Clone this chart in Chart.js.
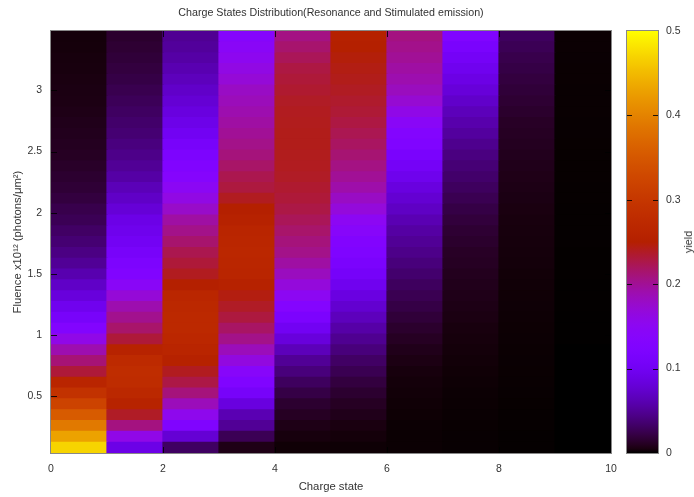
<!DOCTYPE html>
<html><head><meta charset="utf-8">
<script src="https://cdn.jsdelivr.net/npm/chart.js@4/dist/chart.umd.min.js"></script>
<style>
html,body{margin:0;padding:0;background:#fff;}
#wrap{position:relative;width:694px;height:497px;background:#fff;}
canvas{position:absolute;left:0;top:0;}
#cblabel{position:absolute;left:688px;top:242px;transform:translate(-50%,-50%) rotate(-90deg);font:10.8px "Liberation Sans",Arial,sans-serif;color:#333;white-space:nowrap;}
</style></head><body>
<div id="wrap">
<canvas id="main" width="694" height="497"></canvas>
<canvas id="cbar" width="694" height="497"></canvas>
<div id="cblabel">yield</div>
</div>
<script>
// ---- data ----
const chargeStates = [0,1,2,3,4,5,6,7,8,9];
// fluence (x10^12 photons/um^2), row centres, bottom to top
const fluence = [0.078,0.166,0.255,0.343,0.432,0.520,0.609,0.697,0.786,0.874,0.963,1.051,1.140,1.228,1.317,1.405,1.494,1.582,1.671,1.759,1.848,1.936,2.025,2.113,2.202,2.290,2.379,2.467,2.556,2.644,2.733,2.821,2.910,2.998,3.087,3.175,3.264,3.352,3.441];
// yield per charge state, one value per fluence row
const q0 = [0.470,0.430,0.390,0.355,0.320,0.290,0.262,0.232,0.212,0.190,0.160,0.130,0.110,0.096,0.083,0.071,0.060,0.050,0.043,0.037,0.032,0.027,0.024,0.020,0.017,0.015,0.013,0.011,0.010,0.009,0.008,0.007,0.006,0.0055,0.005,0.0045,0.004,0.0035,0.003];
const q1 = [0.090,0.160,0.208,0.238,0.258,0.270,0.278,0.280,0.275,0.258,0.232,0.216,0.203,0.190,0.170,0.145,0.128,0.120,0.110,0.102,0.095,0.090,0.080,0.071,0.064,0.056,0.050,0.045,0.041,0.037,0.034,0.031,0.028,0.025,0.022,0.020,0.018,0.016,0.014];
const q2 = [0.031,0.078,0.125,0.155,0.185,0.210,0.228,0.240,0.255,0.263,0.268,0.272,0.272,0.270,0.265,0.250,0.240,0.232,0.225,0.215,0.205,0.195,0.178,0.162,0.148,0.135,0.127,0.120,0.110,0.100,0.092,0.085,0.078,0.072,0.066,0.061,0.056,0.052,0.049];
const q3 = [0.007,0.027,0.050,0.062,0.085,0.108,0.125,0.140,0.165,0.185,0.205,0.218,0.230,0.238,0.245,0.255,0.262,0.266,0.268,0.266,0.262,0.256,0.250,0.240,0.230,0.225,0.217,0.210,0.205,0.200,0.195,0.190,0.185,0.180,0.170,0.162,0.152,0.145,0.137];
const q4 = [0.002,0.004,0.007,0.011,0.015,0.022,0.030,0.040,0.050,0.065,0.083,0.100,0.118,0.133,0.150,0.168,0.183,0.195,0.205,0.210,0.216,0.222,0.228,0.232,0.235,0.238,0.240,0.241,0.242,0.242,0.241,0.240,0.238,0.235,0.232,0.229,0.222,0.215,0.207];
const q5 = [0.0015,0.003,0.005,0.008,0.011,0.015,0.020,0.026,0.032,0.040,0.048,0.057,0.066,0.076,0.086,0.097,0.107,0.116,0.124,0.130,0.140,0.150,0.168,0.180,0.192,0.200,0.207,0.213,0.219,0.224,0.229,0.233,0.236,0.239,0.242,0.244,0.247,0.250,0.253];
const q6 = [0.001,0.001,0.0012,0.0015,0.002,0.0025,0.003,0.004,0.006,0.008,0.011,0.014,0.018,0.022,0.026,0.030,0.035,0.040,0.045,0.050,0.055,0.062,0.070,0.077,0.085,0.095,0.105,0.115,0.125,0.132,0.145,0.160,0.173,0.183,0.190,0.195,0.200,0.204,0.208];
const q7 = [0.0005,0.0005,0.0006,0.0008,0.001,0.0012,0.0015,0.002,0.0025,0.003,0.0038,0.0045,0.0055,0.0065,0.0075,0.0085,0.0095,0.011,0.012,0.014,0.016,0.019,0.022,0.026,0.030,0.034,0.038,0.042,0.047,0.053,0.059,0.065,0.073,0.081,0.089,0.097,0.105,0.115,0.125];
const q8 = [0.0002,0.0002,0.0003,0.0003,0.0004,0.0005,0.0006,0.0007,0.0008,0.001,0.0012,0.0014,0.0016,0.0018,0.002,0.0023,0.0026,0.003,0.0033,0.0037,0.004,0.0045,0.005,0.0058,0.0065,0.0072,0.008,0.009,0.010,0.011,0.012,0.014,0.016,0.018,0.020,0.022,0.024,0.027,0.030];
const q9 = [0,0,0,0,0,0,0,0,0,0,0.00002,0.00003,0.00004,0.00005,0.00006,0.00008,0.0001,0.00012,0.00014,0.00016,0.00018,0.0002,0.00023,0.00026,0.0003,0.00033,0.00036,0.0004,0.00044,0.00048,0.00052,0.00056,0.0006,0.00065,0.0007,0.00075,0.0008,0.00085,0.0009];
const yieldSeries = [q0,q1,q2,q3,q4,q5,q6,q7,q8,q9];
const cbRange = [0, 0.5];
const xTickStep = 2, yTickStep = 0.5, cbTickStep = 0.1;

const titleText = 'Charge States Distribution(Resonance and Stimulated emission)';
const xTitle = 'Charge state';
const yTitle = 'Fluence x10\u00B9\u00B2 (photons/\u03BCm\u00B2)';

// ---- styling ----
const FONT = '"Liberation Sans", Arial, sans-serif';
const TXT = '#333';
const fmt = v => String(+Number(v).toFixed(3));

// gnuplot default palette (rgbformulae 7,5,15)
function palette(v){
  let x = (v - cbRange[0]) / (cbRange[1] - cbRange[0]);
  x = Math.max(0, Math.min(1, x));
  const r = Math.sqrt(x), g = x*x*x, b = Math.max(0, Math.sin(2*Math.PI*x));
  return 'rgb(' + Math.round(r*255) + ',' + Math.round(g*255) + ',' + Math.round(b*255) + ')';
}

// row bounds from row centres
const n = fluence.length;
const lows = fluence.map((f,k) => k === 0 ? f - (fluence[1]-fluence[0])/2 : (fluence[k-1]+f)/2);
const highs = fluence.map((f,k) => k === n-1 ? f + (f-fluence[n-2])/2 : (f+fluence[k+1])/2);

const datasets = fluence.map((f,k) => ({
  label: 'F=' + f,
  data: chargeStates.map(c => ({x: c + 0.5, y: [lows[k], highs[k]]})),
  backgroundColor: chargeStates.map((c,j) => palette(yieldSeries[j][k]))
}));

const innerTicks = {
  id: 'innerTicks',
  afterDatasetsDraw(chart, args, opts){
    const {ctx, chartArea: a} = chart;
    ctx.save();
    ctx.strokeStyle = opts.color; ctx.lineWidth = 1;
    ctx.beginPath();
    (opts.axes || []).forEach(id => {
      const sc = chart.scales[id];
      sc.ticks.forEach(t => {
        if (t.value <= sc.min + 1e-9 || t.value >= sc.max - 1e-9) return;
        const p = Math.round(sc.getPixelForValue(t.value)) + 0.5;
        const L = opts.length;
        if (sc.isHorizontal()) {
          ctx.moveTo(p, a.bottom); ctx.lineTo(p, a.bottom - L);
          ctx.moveTo(p, a.top); ctx.lineTo(p, a.top + L);
        } else {
          ctx.moveTo(a.left, p); ctx.lineTo(a.left + L, p);
          ctx.moveTo(a.right, p); ctx.lineTo(a.right - L, p);
        }
      });
    });
    ctx.stroke();
    ctx.strokeStyle = opts.border;
    ctx.strokeRect(Math.round(a.left) - 0.5, Math.round(a.top) - 0.5, Math.round(a.right - a.left) + 1, Math.round(a.bottom - a.top) + 1);
    ctx.restore();
  }
};

new Chart(document.getElementById('main'), {
  type: 'bar',
  data: { datasets },
  plugins: [innerTicks],
  options: {
    responsive: false, animation: false, devicePixelRatio: 1,
    layout: { padding: { left: 0, right: 83, top: 0, bottom: 0 } },
    datasets: { bar: { grouped: false, barPercentage: 1, categoryPercentage: 1, borderWidth: 0, inflateAmount: 0.6 } },
    plugins: {
      legend: { display: false }, tooltip: { enabled: false },
      title: { display: true, fullSize: false, text: titleText, color: TXT, font: { family: FONT, size: 10.7, weight: 'normal' }, padding: { top: 7, bottom: 11.2 } },
      innerTicks: { axes: ['x','y'], color: 'rgba(0,0,0,0.85)', length: 6, border: '#888' }
    },
    scales: {
      x: {
        type: 'linear', min: 0, max: 10, offset: false,
        grid: { display: false, offset: false, drawTicks: false }, border: { display: false },
        ticks: { stepSize: xTickStep, padding: 10, color: TXT, font: { family: FONT, size: 10.5 }, maxRotation: 0, callback: fmt },
        title: { display: true, text: xTitle, color: TXT, font: { family: FONT, size: 11.3 }, padding: { top: 0, bottom: 3 } },
        afterFit: s => { s.height = 44; }
      },
      y: {
        type: 'linear', min: lows[0], max: highs[n-1],
        grid: { display: false, drawTicks: false }, border: { display: false },
        ticks: { stepSize: yTickStep, includeBounds: false, padding: 9, color: TXT, font: { family: FONT, size: 10.5 }, callback: fmt },
        title: { display: true, text: yTitle, color: TXT, font: { family: FONT, size: 11.3 }, padding: { top: 11, bottom: 0 } },
        afterFit: s => { s.width = 51; }
      }
    }
  }
});

// colour bar
new Chart(document.getElementById('cbar'), {
  type: 'bar',
  data: {
    labels: ['yield'],
    datasets: [{
      data: [cbRange],
      borderWidth: 0,
      backgroundColor: (c) => {
        const area = c.chart.chartArea;
        if (!area) return 'black';
        const g = c.chart.ctx.createLinearGradient(0, area.bottom, 0, area.top);
        for (let i = 0; i <= 100; i++) g.addColorStop(i/100, palette(cbRange[0] + (cbRange[1]-cbRange[0])*i/100));
        return g;
      }
    }]
  },
  plugins: [innerTicks],
  options: {
    responsive: false, animation: false, devicePixelRatio: 1,
    layout: { padding: { left: 627, right: 0, top: 31, bottom: 44 } },
    datasets: { bar: { barPercentage: 1, categoryPercentage: 1 } },
    plugins: { legend: { display: false }, tooltip: { enabled: false },
      innerTicks: { axes: ['y'], color: 'rgba(0,0,0,0.85)', length: 5, border: '#888' } },
    scales: {
      x: { display: false, offset: true },
      y: {
        position: 'right', min: cbRange[0], max: cbRange[1],
        grid: { display: false, drawTicks: false }, border: { display: false },
        ticks: { stepSize: cbTickStep, padding: 8, color: TXT, font: { family: FONT, size: 10.5 }, callback: fmt },
        afterFit: s => { s.width = 36; }
      }
    }
  }
});
</script>
</body></html>
